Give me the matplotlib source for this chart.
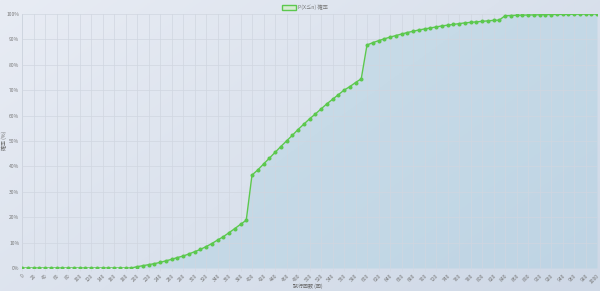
import numpy as np
import matplotlib
matplotlib.use("Agg")
import matplotlib.pyplot as plt
from matplotlib.patches import Rectangle

plt.rcParams['font.family'] = ['Noto Sans CJK JP', 'DejaVu Sans']

# ---- data ----
spins = list(range(0, 1001, 10))
prob_zero = [0.0] * 20
prob_a = [0.5, 0.9, 1.3, 1.7, 2.2, 2.8, 3.4, 4.1, 4.7, 5.5,
          6.4, 7.3, 8.4, 9.6, 11.0, 12.3, 13.9, 15.5, 17.2, 18.8]
prob_b = [36.6, 38.6, 40.9, 43.2, 45.5, 47.8, 50.0, 52.2, 54.5, 56.6,
          58.7, 60.6, 62.6, 64.6, 66.4, 68.2, 70.0, 71.4, 73.0, 74.5]
prob_c = [87.8, 88.7, 89.5, 90.2, 90.9, 91.5, 92.1, 92.7, 93.2, 93.7,
          94.1, 94.5, 94.9, 95.3, 95.6, 95.9, 96.2, 96.5, 96.7, 96.9,
          97.1, 97.3, 97.5, 97.6]
prob_d = [99.3, 99.4, 99.5, 99.55, 99.6, 99.65, 99.7, 99.75, 99.8, 99.83,
          99.86, 99.89, 99.92, 99.94, 99.96, 99.98, 100.0]
probability = prob_zero + prob_a + prob_b + prob_c + prob_d
y_ticks = list(range(0, 101, 10))
y_ticklabels = [f"{v}%" for v in y_ticks]
x_tick_values = spins[::2]
legend_label = "P(X≤n) 確率"
x_label = "試行回数 (回)"
y_label = "確率 (%)"

# ---- figure ----
fig = plt.figure(figsize=(6.0, 2.91), dpi=100)

# gradient background
bg = fig.add_axes([0, 0, 1, 1], zorder=-10)
gx = np.linspace(0, 1, 200)
gy = np.linspace(0, 1, 100)
GX, GY = np.meshgrid(gx, gy)
t = (GX * 0.6 + GY * 0.4)
c0 = np.array([232, 236, 244]) / 255
c1 = np.array([206, 216, 230]) / 255
img = c0[None, None, :] * (1 - t[..., None]) + c1[None, None, :] * t[..., None]
bg.imshow(img, aspect='auto', extent=[0, 1, 0, 1], origin='upper')
bg.axis('off')

ax = fig.add_axes([22 / 600, 23 / 291, 575 / 600, 254 / 291])
ax.patch.set_alpha(0)

x_idx = np.arange(len(spins))
line_color = '#5cc84e'
ax.fill_between(x_idx, 0, probability, color='#a9cfe0', alpha=0.42, lw=0, zorder=1)
ax.plot(x_idx, probability, color=line_color, lw=1.0, marker='o', ms=1.9,
        mfc=line_color, mec=line_color, zorder=3)

ax.set_xlim(0, len(spins) - 1)
ax.set_ylim(0, 100)
ax.set_yticks(y_ticks)
ax.set_yticklabels(y_ticklabels)
tick_pos = [spins.index(v) for v in x_tick_values]
ax.set_xticks(tick_pos)
ax.set_xticklabels([str(v) for v in x_tick_values], rotation=45, ha='right',
                   rotation_mode='anchor')
ax.tick_params(axis='both', labelsize=3.6, colors='#777777', length=2.5,
               width=0.5, pad=1.5)
ax.tick_params(axis='x', colors='#d2d8e2', labelcolor='#777777')
ax.tick_params(axis='y', length=0, pad=2)
ax.grid(True, color='#d0d6e0', lw=0.5, zorder=0)
for s in ax.spines.values():
    s.set_visible(False)
ax.axhline(0, color='#c8cfda', lw=0.6, zorder=0)
ax.axvline(0, color='#c8cfda', lw=0.6, zorder=0)

fig.text(308 / 600, 1 - 286 / 291, x_label, fontsize=3.6, color='#666666',
         ha='center', va='center')
fig.text(4.5 / 600, 1 - 140 / 291, y_label, fontsize=3.6, color='#666666',
         ha='center', va='center', rotation=90)

# legend (top center)
fig.patches.append(Rectangle((282 / 600, 1 - 10 / 291), 14 / 600, 5 / 291,
                             transform=fig.transFigure, facecolor='#d6ecd2',
                             edgecolor=line_color, lw=1.0))
fig.text(298 / 600, 1 - 7.5 / 291, legend_label, fontsize=3.8, color='#777777',
         va='center', ha='left')

fig.savefig("out.png", dpi=100)
